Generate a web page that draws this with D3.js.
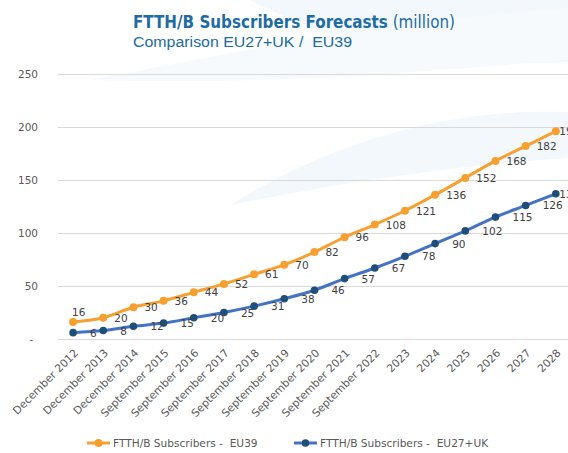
<!DOCTYPE html>
<html>
<head>
<meta charset="utf-8">
<script src="https://cdn.jsdelivr.net/npm/d3@7"></script>
<style>
  body { margin: 0; background: #fff; }
  svg { display: block; }
</style>
</head>
<body>
<svg id="chart" width="568" height="453"></svg>
<script>
// data
const periods = ["December 2012", "December 2013", "December 2014",
  "September 2015", "September 2016", "September 2017", "September 2018",
  "September 2019", "September 2020", "September 2021", "September 2022",
  "2023", "2024", "2025", "2026", "2027", "2028"];
const eu39 = [16, 20, 30, 36, 44, 52, 61, 70, 82, 96, 108, 121, 136, 152, 168, 182, 196];
const eu27uk = [6, 8, 12, 15, 20, 25, 31, 38, 46, 57, 67, 78, 90, 102, 115, 126, 137];
const yTicks = [0, 50, 100, 150, 200, 250];
const seriesNames = ["FTTH/B Subscribers -  EU39", "FTTH/B Subscribers -  EU27+UK"];

const svg = d3.select("#chart");
const W = 568, H = 453;

// faint background swooshes
const bg = svg.append("g").style("opacity", 0.75);
bg.append("path")
  .attr("d", "M 250 0 C 330 40, 420 70, 568 62 L 568 0 Z")
  .attr("fill", "#eef6fc");
bg.append("path")
  .attr("d", "M 90 80 C 200 60, 350 25, 568 8 L 568 60 C 430 70, 300 85, 90 80 Z")
  .attr("fill", "#f3f9fd");
bg.append("path")
  .attr("d", "M 230 205 C 320 150, 430 108, 568 112 L 568 158 C 450 165, 330 185, 230 205 Z")
  .attr("fill", "#eef6fc");

const x = d3.scaleBand()
  .domain(periods)
  .range([58, 58 + 30.17 * 17]);

const y = d3.scaleLinear()
  .domain([0, 250])
  .range([339, 74]);

// gridlines
svg.append("g")
  .selectAll("line")
  .data(yTicks)
  .enter()
  .append("line")
  .attr("x1", 58)
  .attr("x2", W)
  .attr("y1", d => Math.round(y(d)) + 0.5)
  .attr("y2", d => Math.round(y(d)) + 0.5)
  .style("stroke", "#d9d9d9")
  .style("stroke-width", 1);

// y labels
svg.append("g")
  .selectAll("text")
  .data(yTicks)
  .enter()
  .append("text")
  .attr("x", d => d === 0 ? 33 : 38)
  .attr("y", d => y(d) + 4)
  .attr("text-anchor", "end")
  .style("font-family", "DejaVu Sans, Verdana, sans-serif")
  .style("font-size", "10.5px")
  .style("fill", "#595959")
  .text(d => d === 0 ? "-" : d);

// x labels
const cx = d => x(d) + x.bandwidth() / 2;
svg.append("g")
  .selectAll("text")
  .data(periods)
  .enter()
  .append("text")
  .attr("transform", d => `translate(${cx(d) + 3},${351}) rotate(-45)`)
  .attr("text-anchor", "end")
  .attr("dy", "0.35em")
  .style("font-family", "DejaVu Sans, Verdana, sans-serif")
  .style("font-size", "10.8px")
  .style("fill", "#595959")
  .text(d => d);

const line = d3.line()
  .x((d, i) => cx(periods[i]))
  .y(d => y(d))
  .curve(d3.curveCatmullRom.alpha(0.5));

const series = [
  { name: seriesNames[0], values: eu39, line: "#f7a030", marker: "#f7a030", r: 4, dx: 11 },
  { name: seriesNames[1], values: eu27uk, line: "#4472c4", marker: "#1f4e79", r: 3.8, dx: 17 }
];

series.forEach((s, si) => {
  const g = svg.append("g");
  g.append("path")
    .datum(s.values)
    .attr("d", line)
    .style("fill", "none")
    .style("stroke", s.line)
    .style("stroke-width", 3);

  g.selectAll("circle")
    .data(s.values)
    .enter()
    .append("circle")
    .attr("cx", (d, i) => cx(periods[i]))
    .attr("cy", d => y(d))
    .attr("r", s.r)
    .style("fill", s.marker);

  g.selectAll("text")
    .data(s.values)
    .enter()
    .append("text")
    .attr("x", (d, i) => {
      if (si === 0 && i === 0) return cx(periods[i]) - 1;
      if (i === s.values.length - 1) return cx(periods[i]) + 3.5;
      return cx(periods[i]) + s.dx;
    })
    .attr("y", (d, i) => (si === 0 && i === 0) ? y(d) - 6 : y(d) + 4)
    .style("font-family", "DejaVu Sans, Verdana, sans-serif")
    .style("font-size", "10.5px")
    .style("fill", "#404040")
    .text(d => d);
});

// legend
const legendX = [87, 294];
series.forEach((s, i) => {
  const g = svg.append("g").attr("transform", `translate(${legendX[i]},443)`);
  g.append("line")
    .attr("x1", 0).attr("x2", 23)
    .attr("y1", 0).attr("y2", 0)
    .style("stroke", s.line)
    .style("stroke-width", 3);
  g.append("circle")
    .attr("cx", 11.5).attr("cy", 0).attr("r", s.r)
    .style("fill", s.marker);
  g.append("text")
    .attr("x", 26)
    .attr("y", 4)
    .style("white-space", "pre")
    .style("font-family", "DejaVu Sans, Verdana, sans-serif")
    .style("font-size", "10.6px")
    .style("fill", "#595959")
    .text(s.name);
});

// title
const title = svg.append("text")
  .attr("x", 133)
  .attr("y", 28)
  .attr("textLength", 322)
  .attr("lengthAdjust", "spacingAndGlyphs")
  .style("white-space", "pre")
  .style("font-family", "DejaVu Sans, Verdana, sans-serif")
  .style("font-size", "18px")
  .style("fill", "#1f6ba5");
title.append("tspan")
  .style("font-weight", "bold")
  .text("FTTH/B Subscribers Forecasts");
title.append("tspan")
  .text(" (million)");

svg.append("text")
  .attr("x", 133)
  .attr("y", 47)
  .attr("textLength", 219)
  .attr("lengthAdjust", "spacingAndGlyphs")
  .style("white-space", "pre")
  .style("font-family", "Liberation Sans, Arial, sans-serif")
  .style("font-size", "15.5px")
  .style("fill", "#1a6aa3")
  .text("Comparison EU27+UK /  EU39");
</script>
</body>
</html>
